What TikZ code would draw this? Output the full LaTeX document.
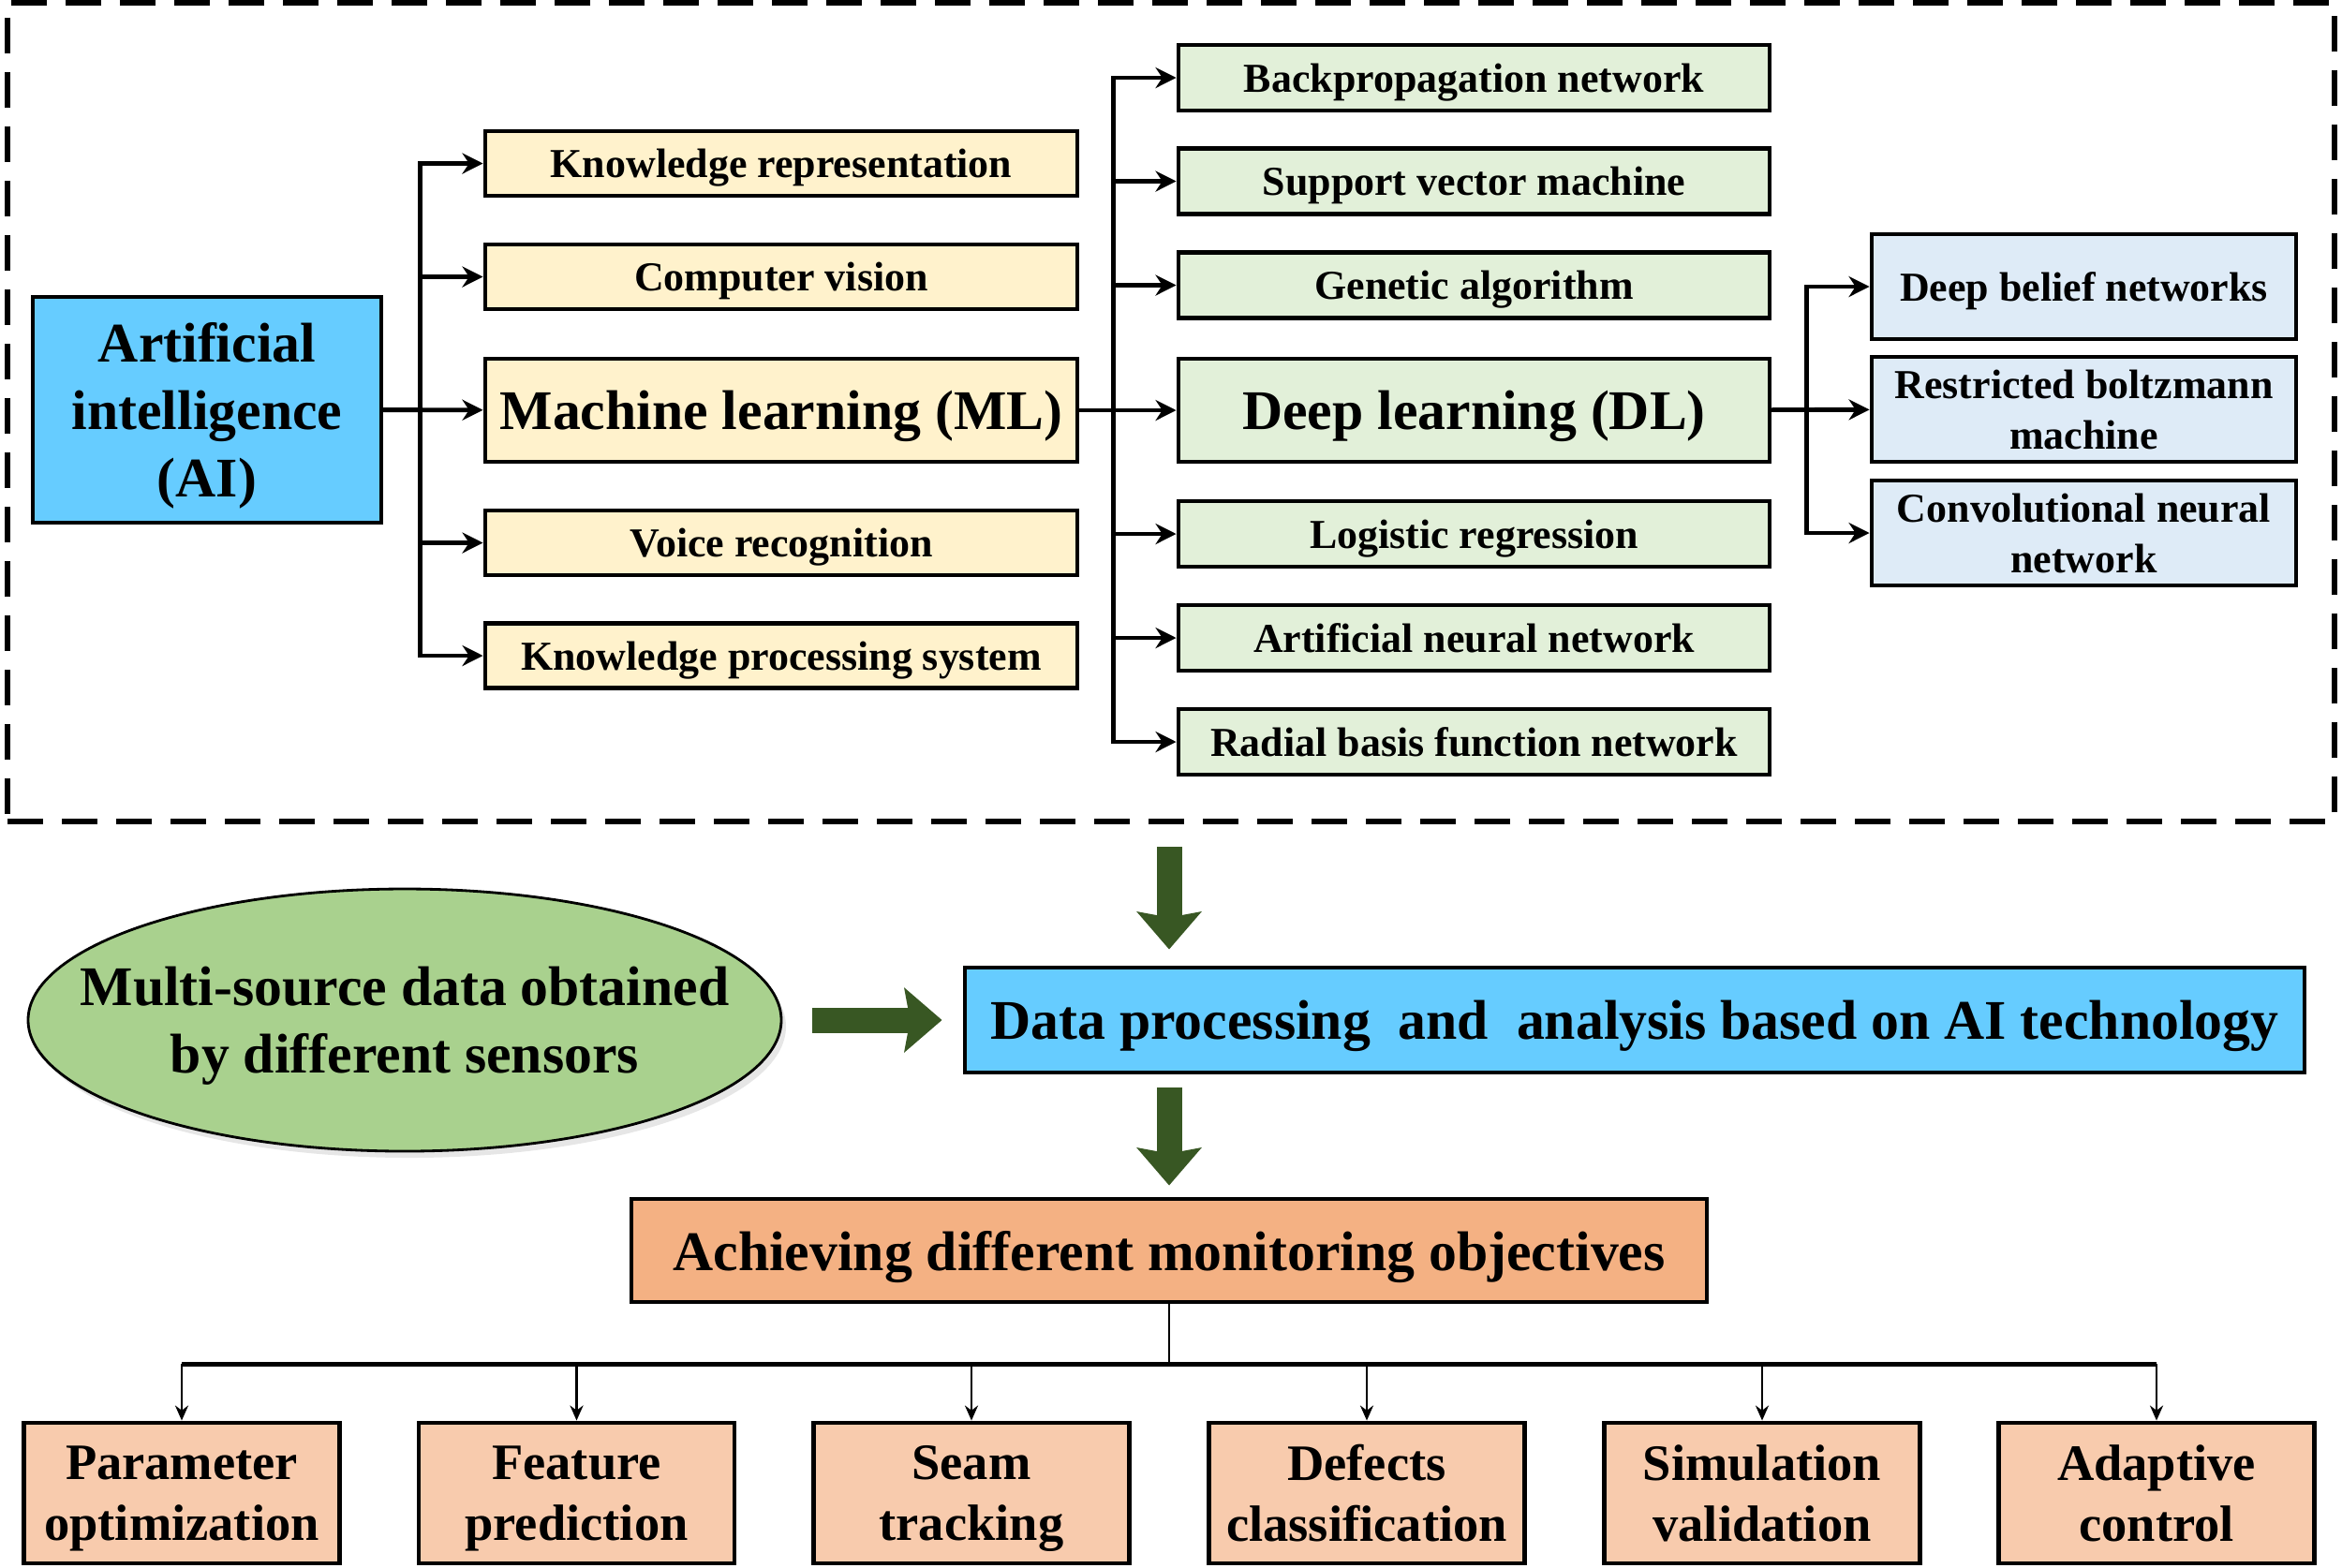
\documentclass[tikz,border=0pt]{standalone}
\usepackage{fontspec}
\setmainfont{Liberation Serif}
\usepackage{xcolor}
\usepackage{tikz}
\usetikzlibrary{positioning,arrows.meta,shapes.geometric,shadows}

\definecolor{skyb}{RGB}{102,204,255}
\definecolor{cream}{RGB}{255,242,204}
\definecolor{mint}{RGB}{226,240,217}
\definecolor{pale}{RGB}{222,235,247}
\definecolor{leaf}{RGB}{169,209,142}
\definecolor{orng}{RGB}{244,177,131}
\definecolor{peach}{RGB}{248,203,173}
\definecolor{dkgreen}{RGB}{56,87,35}

\newcommand\fbig{\bfseries\fontsize{17}{20.5}\selectfont}
\newcommand\fmid{\bfseries\fontsize{15.5}{18.6}\selectfont}
\newcommand\fsml{\bfseries\fontsize{12.5}{15.4}\selectfont}

\begin{document}
\begin{tikzpicture}[
  font=\fsml, >={Stealth[length=2.2mm,width=2.2mm]}, line width=1.4pt,
  bx/.style={draw, line width=1.4pt, align=center, inner sep=1pt, text depth=0pt},
  yb/.style={bx, fill=cream, minimum width=6.32cm, minimum height=6.9mm},
  gb/.style={bx, fill=mint, minimum width=6.31cm, minimum height=7mm},
  lb/.style={bx, fill=pale, minimum width=4.53cm, minimum height=11.2mm},
  ob/.style={bx, fill=peach, minimum width=3.37cm, minimum height=15mm, font=\fmid},
  frame/.style={draw, line width=1.7pt, dash pattern=on 3.8mm off 2mm,
    minimum width=24.84cm, minimum height=8.74cm},
  big/.style={draw=dkgreen, line width=2.7mm,
    -{Stealth[length=4mm,width=6.8mm,inset=0.6mm]}},
  drop/.style={line width=0.8pt, -{Stealth[length=1.6mm,width=1.4mm]}}]
\useasboundingbox (0,0) rectangle (25,-16.73);

% AI family tree
\node[frame] (frame) at (12.5,-4.4) {};
\node[bx, fill=skyb, minimum width=3.72cm, minimum height=2.41cm, font=\fbig] (ai) at (2.21,-4.375) {Artificial\\intelligence\\(AI)};
\node[yb] (kr) at (8.34,-1.745) {Knowledge representation};
\node[yb] (cv) at (8.34,-2.955) {Computer vision};
\node[yb, minimum height=11mm, font=\fbig] (ml) at (8.34,-4.38) {Machine learning (ML)};
\node[yb] (vr) at (8.34,-5.795) {Voice recognition};
\node[yb] (kps) at (8.34,-7.0) {Knowledge processing system};
\node[gb] (bp) at (15.735,-0.83) {Backpropagation network};
\node[gb] (svm) at (15.735,-1.935) {Support vector machine};
\node[gb] (ga) at (15.735,-3.045) {Genetic algorithm};
\node[gb, minimum height=11mm, font=\fbig] (dl) at (15.735,-4.38) {Deep learning (DL)};
\node[gb] (lr) at (15.735,-5.70) {Logistic regression};
\node[gb] (ann) at (15.735,-6.81) {Artificial neural network};
\node[gb] (rbf) at (15.735,-7.92) {Radial basis function network};
\node[lb] (dbn) at (22.245,-3.06) {Deep belief networks};
\node[lb] (rbm) at (22.245,-4.37) {Restricted boltzmann\\machine};
\node[lb] (cnn) at (22.245,-5.69) {Convolutional neural\\network};

\draw[->] (ai) -- (ml);
\draw[->] (ai.east) -- ++(0.39,0) |- (kr); \draw[->] (ai.east) -- ++(0.39,0) |- (cv);
\draw[->] (ai.east) -- ++(0.39,0) |- (vr); \draw[->] (ai.east) -- ++(0.39,0) |- (kps);
\draw[->] (ml) -- (dl);
\draw[->] (ml.east) -- ++(0.36,0) |- (bp); \draw[->] (ml.east) -- ++(0.36,0) |- (svm);
\draw[->] (ml.east) -- ++(0.36,0) |- (ga); \draw[->] (ml.east) -- ++(0.36,0) |- (lr);
\draw[->] (ml.east) -- ++(0.36,0) |- (ann); \draw[->] (ml.east) -- ++(0.36,0) |- (rbf);
\draw[->] (dl) -- (rbm);
\draw[->] (dl.east) -- ++(0.37,0) |- (dbn); \draw[->] (dl.east) -- ++(0.37,0) |- (cnn);

% data flow
\node[ellipse, draw, line width=0.8pt, fill=leaf, minimum width=8.04cm, minimum height=2.8cm,
  drop shadow={opacity=0.2, shadow xshift=0.5mm, shadow yshift=-0.7mm}] (src) at (4.32,-10.89) {};
\node[align=center, font=\fbig, text depth=0pt] (srctxt) at (src) {Multi-source data obtained\\by different sensors};
\node[bx, fill=skyb, minimum width=14.3cm, minimum height=11.2mm, font=\fbig] (data) at (17.45,-10.89)
  {Data processing\ \ and\ \ analysis based on AI technology};
\node[bx, fill=orng, minimum width=11.48cm, minimum height=11mm, font=\fbig] (ach) at (12.48,-13.35)
  {Achieving different monitoring objectives};
\draw[big, shorten <=2.4mm, shorten >=1.7mm] (frame.south -| ach) -- (data.north -| ach);
\draw[big, shorten <=3.2mm, shorten >=2.2mm] (src) -- (data);
\draw[big, shorten <=1.4mm, shorten >=1.2mm] (data.south -| ach) -- (ach);

% objectives
\node[ob] (p1) at (1.94,-15.94) {Parameter\\optimization};
\node[ob] (p2) at (6.155,-15.94) {Feature\\prediction};
\node[ob] (p3) at (10.37,-15.94) {Seam\\tracking};
\node[ob] (p4) at (14.59,-15.94) {Defects\\classification};
\node[ob] (p5) at (18.81,-15.94) {Simulation\\validation};
\node[ob] (p6) at (23.02,-15.94) {Adaptive\\control};
\path (ach.south) ++(0,-0.64) coordinate (bus);
\draw[line width=0.8pt] (ach) -- (bus);
\draw[line width=1.6pt] (bus -| p1) -- (bus -| p6);
\draw[drop] (bus -| p1) -- (p1); \draw[drop] (bus -| p2) -- (p2); \draw[drop] (bus -| p3) -- (p3);
\draw[drop] (bus -| p4) -- (p4); \draw[drop] (bus -| p5) -- (p5); \draw[drop] (bus -| p6) -- (p6);
\end{tikzpicture}
\end{document}
